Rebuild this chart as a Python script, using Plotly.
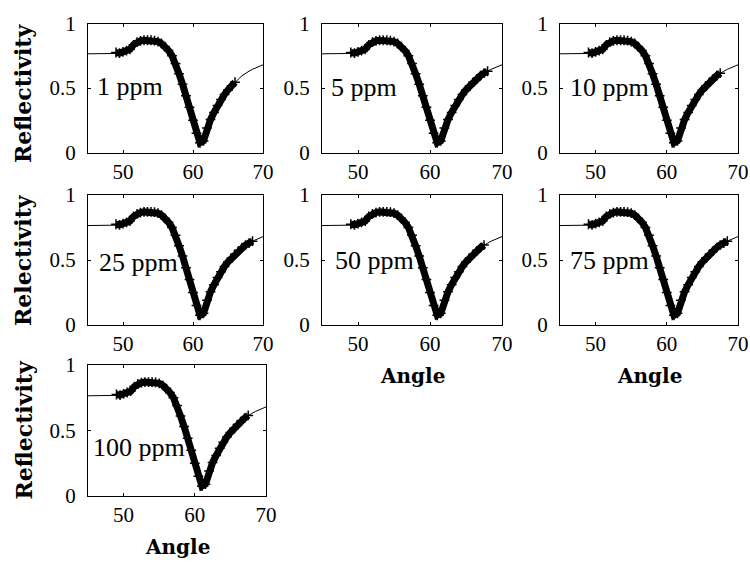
import plotly.graph_objects as go

# ---- data ----
angle_theory = [45, 46, 47, 48, 48.5, 49, 49.5, 50, 50.5, 51, 51.5, 52, 52.5, 53, 53.5, 54,
                54.5, 55, 55.5, 56, 56.5, 57, 57.5, 58, 58.5, 59, 59.5, 60, 60.5, 61, 61.5,
                62, 62.5, 63, 63.5, 64, 64.5, 65, 65.5, 66, 66.5, 67, 67.5, 68, 68.5, 69,
                69.5, 70]
refl_theory = [0.765, 0.765, 0.765, 0.765, 0.765, 0.768, 0.772, 0.778, 0.786, 0.80, 0.835,
               0.855, 0.865, 0.87, 0.87, 0.87, 0.868, 0.86, 0.845, 0.82, 0.79, 0.75, 0.69,
               0.61, 0.53, 0.44, 0.35, 0.25, 0.15, 0.075, 0.09, 0.19, 0.255, 0.31, 0.365,
               0.41, 0.45, 0.485, 0.515, 0.545, 0.57, 0.595, 0.615, 0.63, 0.645, 0.655,
               0.665, 0.68]

angle_exp = [49, 49.5, 50, 50.5, 51, 51.5, 52, 52.5, 53, 53.5, 54, 54.5, 55, 55.5, 56,
             56.5, 57, 57.5, 58, 58.5, 59, 59.5, 60, 60.5, 61, 61.5, 62, 62.5, 63, 63.5,
             64, 64.5, 65, 65.5, 66, 66.5, 67, 67.5, 68, 68.5]
refl_exp = [0.775, 0.77, 0.78, 0.79, 0.80, 0.835, 0.855, 0.865, 0.87, 0.87, 0.87, 0.868,
            0.86, 0.845, 0.82, 0.79, 0.75, 0.69, 0.61, 0.53, 0.44, 0.35, 0.25, 0.15, 0.075,
            0.09, 0.19, 0.255, 0.31, 0.365, 0.41, 0.45, 0.485, 0.515, 0.545, 0.57, 0.595,
            0.615, 0.63, 0.645]

panel_labels = ["1 ppm", "5 ppm", "10 ppm", "25 ppm", "50 ppm", "75 ppm", "100 ppm"]
exp_end = [66.2, 68.0, 67.6, 68.6, 67.6, 68.8, 67.8]
label_y = [0.51, 0.50, 0.50, 0.48, 0.50, 0.50, 0.37]
label_inset = [7, 7, 8, 9, 11, 8, 3]

x_ticks = [50, 60, 70]
y_ticks = [0, 0.5, 1]
y_tick_text = ["0", "0.5", "1"]

# ---- layout geometry (pixels) ----
W, H = 750, 562
col_px = [(88, 263), (322, 502), (560, 738)]
row_px = [(23.5, 152.5), (195, 325), (365, 496)]
panel_pos = [(0, 0), (0, 1), (0, 2), (1, 0), (1, 1), (1, 2), (2, 0)]
col_px_row3 = (88, 266)

ytitles = {0: "Reflectivity", 1: "Relectivity", 2: "Reflectivity"}
angle_titles = [(1, 1), (1, 2), (2, 0)]

SERIF = "Liberation Serif, Times New Roman, Times, serif"
SLAB = "DejaVu Serif, serif"

fig = go.Figure()
layout = dict(width=W, height=H, margin=dict(l=0, r=0, t=0, b=0, autoexpand=False),
              template="none",
              paper_bgcolor="white", plot_bgcolor="white", showlegend=False)

tick_font = dict(family=SERIF, size=21, color="black")
annotations = []

for i, (r, c) in enumerate(panel_pos):
    n = i + 1
    xs = "x" if n == 1 else f"x{n}"
    ys = "y" if n == 1 else f"y{n}"
    x0, x1 = col_px_row3 if r == 2 else col_px[c]
    y0, y1 = row_px[r]
    xdom = [x0 / W, x1 / W]
    ydom = [1 - y1 / H, 1 - y0 / H]
    layout["xaxis" if n == 1 else f"xaxis{n}"] = dict(
        domain=xdom, anchor=ys, range=[45, 70], tickvals=x_ticks, automargin=False,
        ticks="inside", ticklen=3, tickcolor="black", showline=True, linecolor="black",
        linewidth=1, mirror="ticks", showgrid=False, zeroline=False,
        tickfont=tick_font)
    layout["yaxis" if n == 1 else f"yaxis{n}"] = dict(
        domain=ydom, anchor=xs, range=[0, 1], tickvals=y_ticks, ticktext=y_tick_text,
        automargin=False,
        ticks="inside", ticklen=3, tickcolor="black", showline=True, linecolor="black",
        linewidth=1, mirror="ticks", showgrid=False, zeroline=False,
        tickfont=tick_font, ticklabelstandoff=7)

    fig.add_trace(go.Scatter(x=angle_theory, y=refl_theory, mode="lines",
                             line=dict(color="black", width=1), xaxis=xs, yaxis=ys,
                             hoverinfo="skip"))
    ex = [a for a in angle_exp if a <= exp_end[i]]
    ey = refl_exp[:len(ex)]
    fig.add_trace(go.Scatter(x=ex, y=ey, mode="lines+markers",
                             line=dict(color="black", width=7),
                             marker=dict(symbol="cross-thin", size=7, color="black",
                                         line=dict(color="black", width=1.5)),
                             xaxis=xs, yaxis=ys, hoverinfo="skip"))

    annotations.append(dict(text=panel_labels[i], xref="paper", yref=ys,
                            x=(x0 + label_inset[i]) / W, y=label_y[i],
                            xanchor="left", yanchor="middle", showarrow=False,
                            font=dict(family=SERIF, size=26, color="black")))

for r in range(3):
    y0, y1 = row_px[r]
    cy = (y0 + y1) / 2 + (6 if r == 0 else 0)
    annotations.append(dict(text=ytitles[r], xref="paper", yref="paper",
                            x=23 / W, y=1 - cy / H, xanchor="center", yanchor="middle",
                            textangle=-90, showarrow=False,
                            font=dict(family=SLAB, size=22, color="black",
                                      weight="bold")))

for (r, c) in angle_titles:
    x0, x1 = col_px_row3 if r == 2 else col_px[c]
    cy = row_px[r][1] + 51
    annotations.append(dict(text="Angle", xref="paper", yref="paper",
                            x=(x0 + x1) / 2 / W, y=1 - cy / H,
                            xanchor="center", yanchor="middle", showarrow=False,
                            font=dict(family=SLAB, size=20, color="black",
                                      weight="bold")))

layout["annotations"] = annotations
fig.update_layout(**layout)
fig.write_html("out.html")
